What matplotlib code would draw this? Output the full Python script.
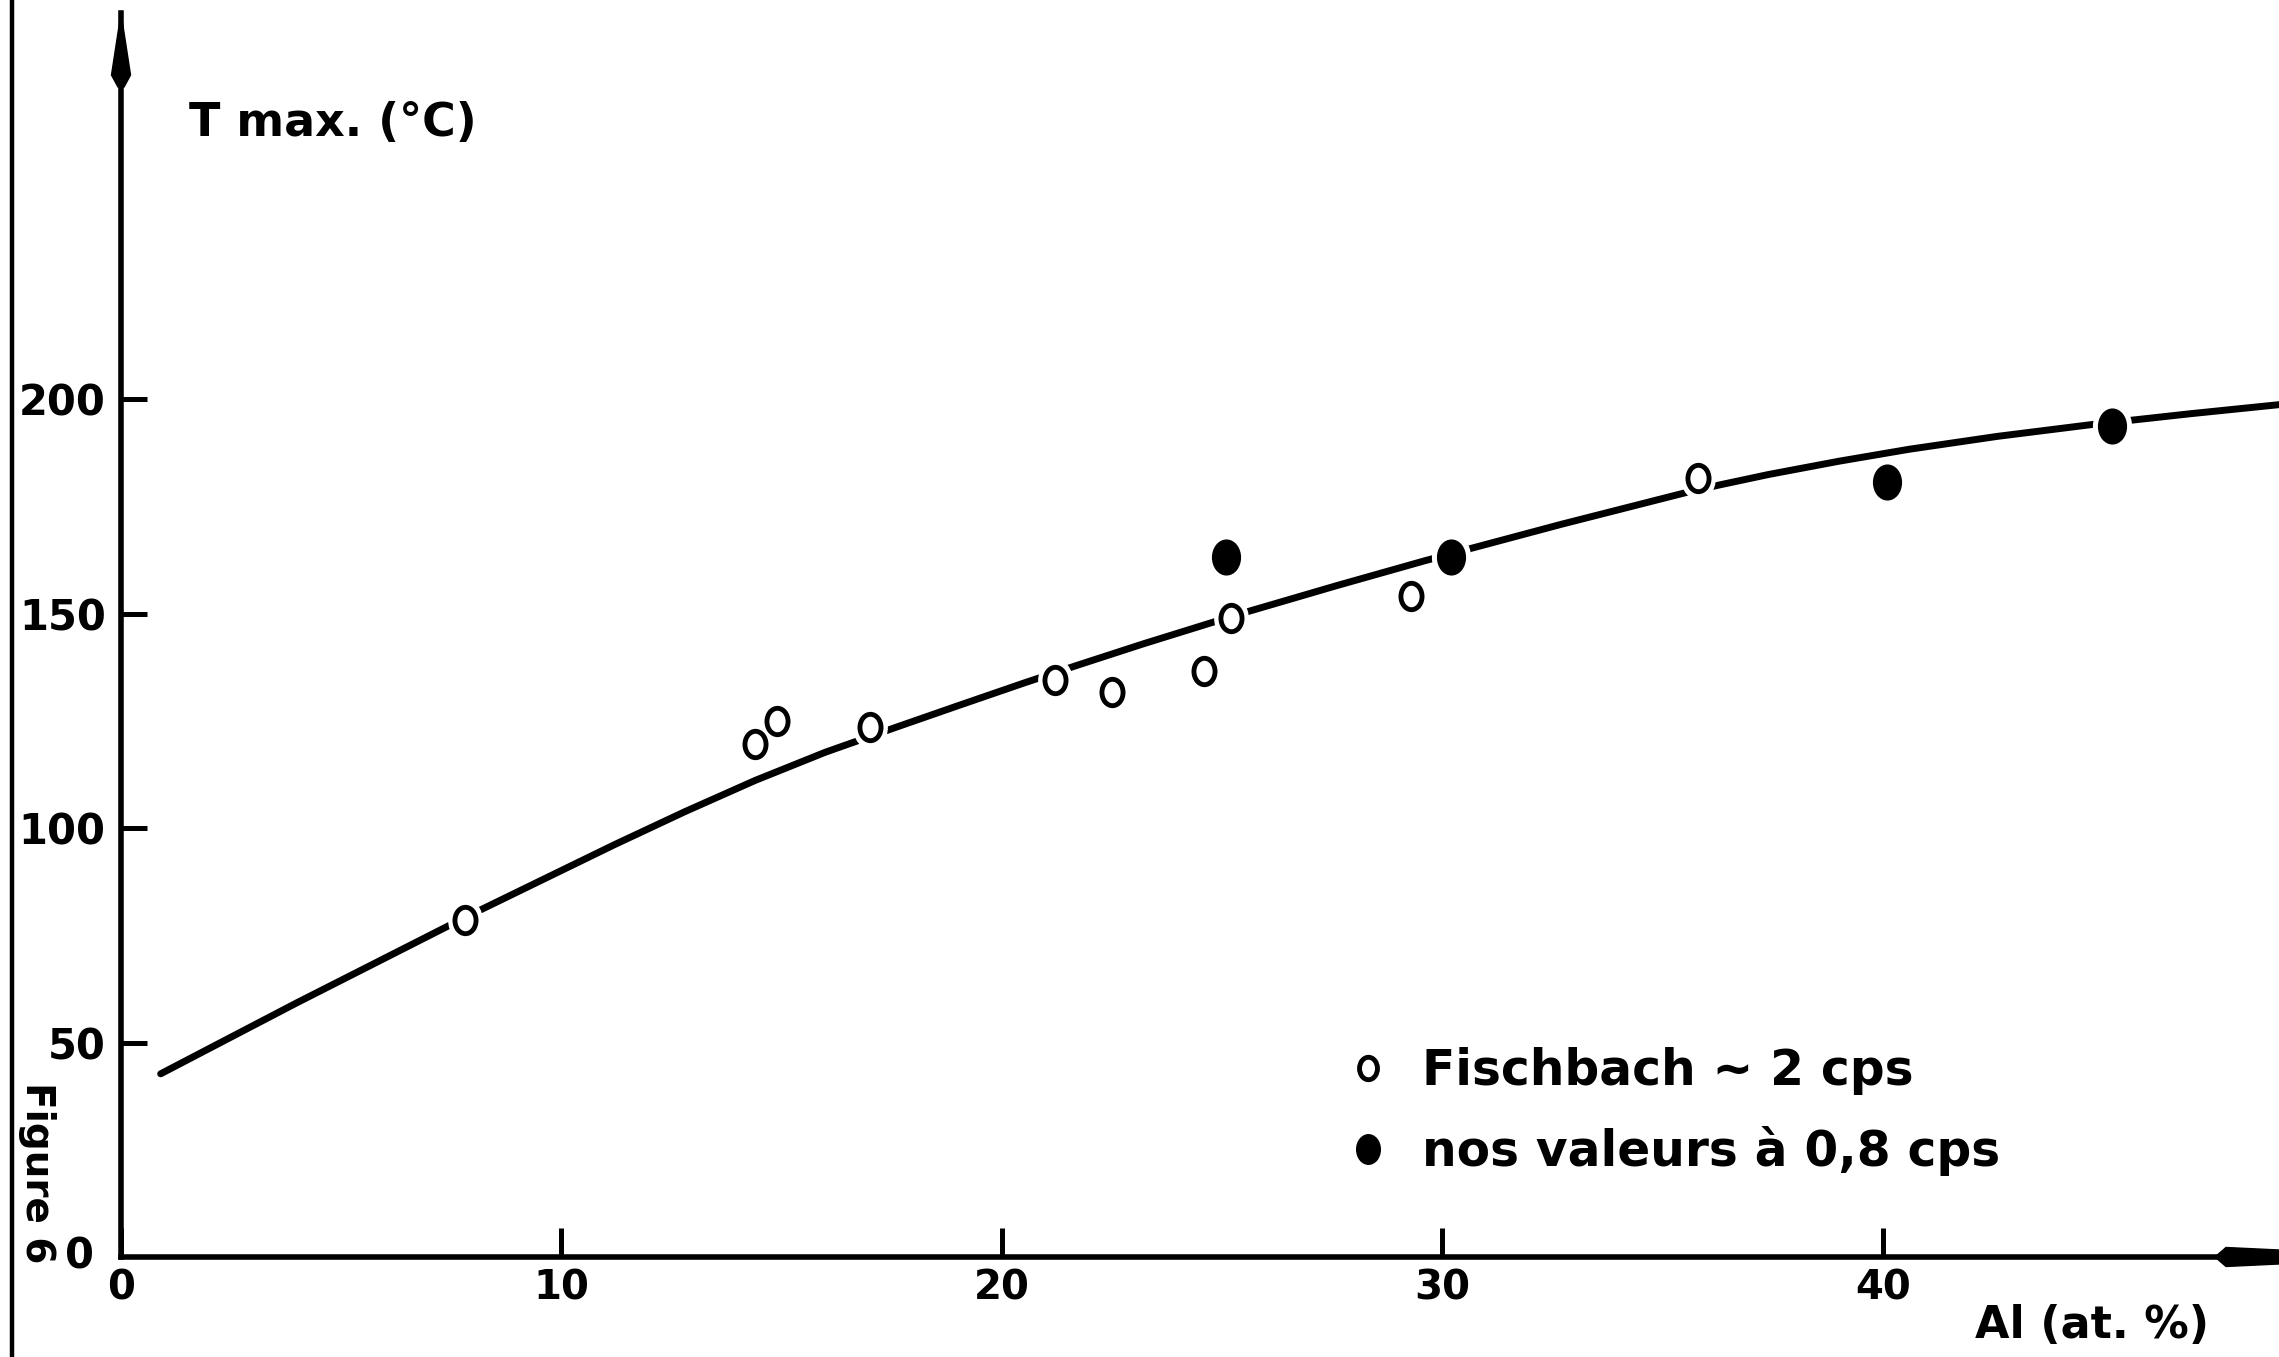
import matplotlib
matplotlib.use("Agg")
import matplotlib.pyplot as plt
from matplotlib.lines import Line2D
from matplotlib.patches import Polygon
from matplotlib.path import Path
from matplotlib.transforms import Affine2D

# Fischbach data (open circles): Al at.% and T max in degC
al_fischbach = [7.8, 14.4, 14.9, 17.0, 21.2, 22.5, 24.6, 25.2, 29.3, 35.8]
t_fischbach = [78.6, 119.6, 125.0, 123.6, 134.5, 131.8, 136.5, 149.0, 154.0, 181.6]

# our values at 0.8 cps (filled circles)
al_nous = [25.1, 30.2, 40.1, 45.2]
t_nous = [163.3, 163.3, 180.6, 193.8]

# trend curve drawn through the points
al_curve = [0.9, 4.0, 7.8, 11.2, 12.8, 14.4, 16.0, 17.6, 19.0, 20.5, 21.7, 23.2, 24.8,
            25.6, 27.6, 29.6, 32.7, 35.8, 37.4, 39.0, 40.6, 42.6, 44.7, 47.0, 49.0]
t_curve = [42.7, 59.3, 79.1, 96.1, 103.8, 111.1, 117.7, 123.5, 128.5, 133.8, 137.9, 142.9, 148.0,
           150.5, 156.5, 162.3, 170.8, 178.9, 182.4, 185.5, 188.3, 191.3, 194.0, 196.6, 198.7]

x_ticks = [0, 10, 20, 30, 40]
y_ticks = [50, 100, 150, 200]

plt.rcParams['font.family'] = ['DejaVu Sans']
plt.rcParams['font.weight'] = 'bold'

fig = plt.figure(figsize=(22.79, 13.57), dpi=100)
ax = fig.add_axes([0.0531, 0.0737, 0.9469, 0.9167])
ax.set_xlim(0, 49)
ax.set_ylim(0, 290)

# slightly tall ellipse, like the hand-drawn circles
oval = Path.unit_circle().transformed(Affine2D().scale(0.8, 1.0))

ax.plot(al_curve, t_curve, color='black', lw=5.0, solid_capstyle='round',
        solid_joinstyle='round', zorder=2)

# white halo so the curve is broken around each point
ax.plot(al_fischbach, t_fischbach, ls='none', marker=oval, ms=30, mfc='white', mec='white', zorder=3)
ax.plot(al_nous, t_nous, ls='none', marker=oval, ms=34, mfc='white', mec='white', zorder=3)

ax.plot(al_fischbach, t_fischbach, ls='none', marker=oval, ms=19, mfc='white', mec='black',
        mew=3.5, zorder=4, label='Fischbach ~ 2 cps')
ax.plot(al_nous, t_nous, ls='none', marker=oval, ms=25, mfc='black', mec='black',
        zorder=4, label='nos valeurs à 0,8 cps')

for s in ['top', 'right']:
    ax.spines[s].set_visible(False)
for s in ['left', 'bottom']:
    ax.spines[s].set_linewidth(4.0)

ax.set_xticks(x_ticks)
ax.set_xticklabels([str(v) for v in x_ticks])
ax.set_yticks(y_ticks)
ax.set_yticklabels([str(v) for v in y_ticks])
ax.tick_params(axis='x', direction='in', length=21, width=3.6, pad=8, labelsize=29)
ax.tick_params(axis='y', direction='in', length=19, width=3.6, pad=11, labelsize=30)

ax.annotate('0', xy=(0, 0), xytext=(-30, 0), textcoords='offset points',
            ha='center', va='center', fontsize=30)

# arrow heads on both axes (axes-fraction coordinates)
w_px, h_px = 2158.0, 1244.0
up = [(0, 0), (9.5, -62), (3, -74), (-3, -74), (-9.5, -62)]
ax.add_patch(Polygon([(dx / w_px, 1 + dy / h_px) for dx, dy in up], closed=True,
                     color='black', transform=ax.transAxes, clip_on=False))
right = [(2215, 0), (2226, 9.5), (2279, 7), (2279, -7), (2226, -9.5)]
ax.add_patch(Polygon([((px - 121) / w_px, dy / h_px) for px, dy in right], closed=True,
                     color='black', transform=ax.transAxes, clip_on=False))

fig.text(0.083, 0.909, 'T max. (°C)', fontsize=33, ha='left', va='center')
fig.text(0.918, 0.023, 'Al (at. %)', fontsize=32, ha='center', va='center')
fig.text(0.0162, 0.1355, 'Figure 6', fontsize=28, rotation=-90, ha='center', va='center')

ax.legend(loc='center left', bbox_to_anchor=(0.5667, 0.117), frameon=False,
          fontsize=35, markerscale=0.85, handlelength=1.0, handletextpad=0.6,
          labelspacing=0.62, borderpad=0, borderaxespad=0)

# page edge on the left
fig.add_artist(Line2D([0.0053, 0.0053], [0, 1], color='black', lw=3.2))

fig.savefig('out.png', dpi=100)
